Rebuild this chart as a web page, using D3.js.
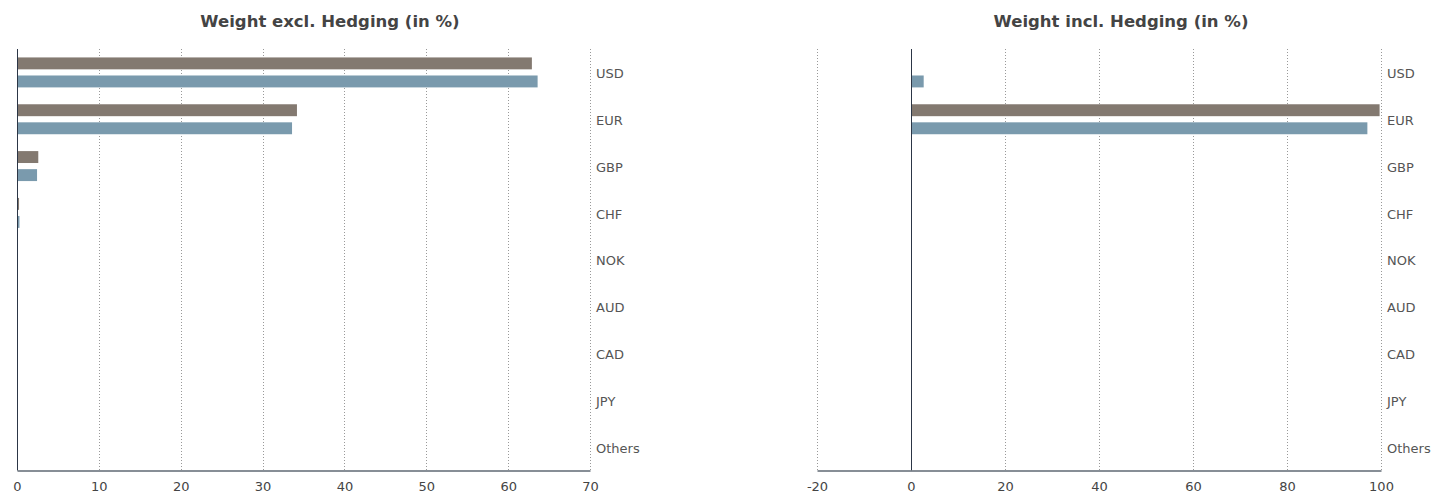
<!DOCTYPE html>
<html>
<head>
<meta charset="utf-8">
<script src="https://cdn.jsdelivr.net/npm/d3@7/dist/d3.min.js"></script>
<style>
  html, body { margin: 0; padding: 0; background: #fff; }
  svg { display: block; font-family: "DejaVu Sans", Verdana, sans-serif; }
</style>
</head>
<body>
<svg id="chart" width="1434" height="493"></svg>
<script>
// ---- data ----
const categories = ["USD", "EUR", "GBP", "CHF", "NOK", "AUD", "CAD", "JPY", "Others"];
const seriesNames = ["Fund", "Benchmark"];
const exclFund = [62.9, 34.2, 2.6, 0.25, 0.05, 0.04, 0.03, 0.02, 0.01];
const exclBenchmark = [63.6, 33.6, 2.45, 0.3, 0.05, 0.04, 0.03, 0.02, 0.01];
const inclFund = [0.2, 99.7, 0.05, 0.1, 0.02, 0.01, 0.01, 0.01, 0];
const inclBenchmark = [2.7, 97.1, 0.15, 0.1, 0.02, 0.01, 0.01, 0.01, 0];
const exclTicks = [0, 10, 20, 30, 40, 50, 60, 70];
const inclTicks = [-20, 0, 20, 40, 60, 80, 100];
const titles = ["Weight excl. Hedging (in %)", "Weight incl. Hedging (in %)"];
const colors = ["#837970", "#7a9aad"];

const svg = d3.select("#chart");
const plotTop = 49, plotBottom = 470.5;

function panel(opts) {
  const g = svg.append("g");
  const x = d3.scaleLinear().domain(opts.domain).range(opts.range);
  const y = d3.scaleBand().domain(categories).range([plotTop, plotBottom])
    .paddingInner(0.36).paddingOuter(0.18);
  const ySub = d3.scaleBand().domain(seriesNames).range([0, y.bandwidth()]).paddingInner(0.34);

  // title
  g.append("text")
    .attr("x", opts.titleX).attr("y", 27)
    .attr("text-anchor", "middle")
    .attr("font-size", "16.5px").attr("font-weight", "bold")
    .attr("fill", "#444")
    .text(opts.title);

  // gridlines (dotted), skipping zero
  g.append("g").selectAll("line")
    .data(opts.ticks.filter(t => t !== 0))
    .join("line")
    .attr("x1", d => Math.round(x(d)) + 0.5).attr("x2", d => Math.round(x(d)) + 0.5)
    .attr("y1", plotTop).attr("y2", plotBottom)
    .attr("stroke", "#999").attr("stroke-width", 1)
    .attr("stroke-dasharray", "1,2");

  // bars
  const rows = categories.map((c, i) => ({ c, vals: [opts.s1[i], opts.s2[i]] }));
  const rg = g.append("g").selectAll("g").data(rows).join("g")
    .attr("transform", d => `translate(0,${y(d.c)})`);
  rg.selectAll("rect")
    .data(d => d.vals.map((v, j) => ({ v, s: seriesNames[j], j })))
    .join("rect")
    .attr("x", d => Math.min(x(0), x(d.v)))
    .attr("width", d => Math.abs(x(d.v) - x(0)))
    .attr("y", d => ySub(d.s))
    .attr("height", ySub.bandwidth())
    .attr("fill", d => colors[d.j]);

  // zero line
  g.append("line")
    .attr("x1", Math.round(x(0)) + 0.5).attr("x2", Math.round(x(0)) + 0.5)
    .attr("y1", plotTop).attr("y2", plotBottom)
    .attr("stroke", "#2c3646").attr("stroke-width", 1);

  // bottom axis
  const axis = d3.axisBottom(x).tickValues(opts.ticks).tickSize(0).tickPadding(0)
    .tickFormat(d => String(d));
  const ag = g.append("g").attr("transform", `translate(0,${plotBottom})`).call(axis);
  ag.select(".domain").attr("stroke", "#5f6873").attr("stroke-width", 1.5);
  ag.selectAll("text")
    .attr("y", 20).attr("dy", 0)
    .attr("font-size", "13px").attr("fill", "#444")
    .attr("font-family", "DejaVu Sans, Verdana, sans-serif");

  // category labels
  g.append("g").selectAll("text").data(categories).join("text")
    .attr("x", opts.range[1] + 6)
    .attr("y", d => y(d) + y.bandwidth() / 2 + 1)
    .attr("dy", "0.36em")
    .attr("font-size", "13px").attr("fill", "#555")
    .text(d => d);
}

panel({ domain: [0, 70], range: [17, 590], ticks: exclTicks, s1: exclFund, s2: exclBenchmark,
        title: titles[0], titleX: 330 });
panel({ domain: [-20, 100], range: [817, 1381], ticks: inclTicks, s1: inclFund, s2: inclBenchmark,
        title: titles[1], titleX: 1121 });
</script>
</body>
</html>
